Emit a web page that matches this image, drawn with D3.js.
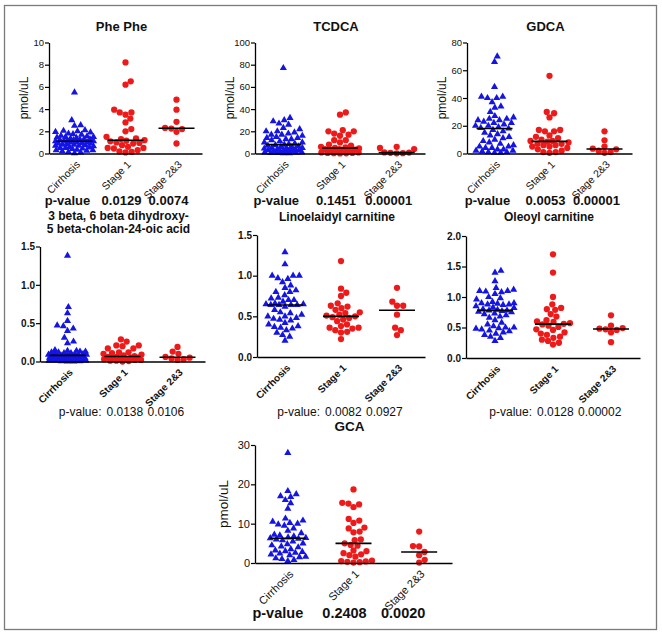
<!DOCTYPE html>
<html>
<head>
<meta charset="utf-8">
<script src="https://cdn.jsdelivr.net/npm/d3@7"></script>
<style>
  body { margin: 0; background: #fff; }
  svg { display: block; }
</style>
</head>
<body>
<div id="chart"></div>
<script>
const width = 662
const height = 634

const groups = ["Cirrhosis", "Stage 1", "Stage 2&3"]

// Phe Phe (pmol/uL)
const phePheCirrhosis = [5.5, 3.0, 2.55, 2.5, 2.1, 2.05, 2.0, 1.95, 1.9, 1.8, 1.75, 1.7, 1.6, 1.55, 1.5, 1.5, 1.45, 1.4, 1.35, 1.3, 1.3, 1.25, 1.2, 1.2, 1.15, 1.15, 1.12,
    1.1, 1.05, 1.0, 1.0, 0.95, 0.9, 0.9, 0.85, 0.8, 0.8, 0.75, 0.7, 0.7, 0.65, 0.6, 0.55, 0.5, 0.5, 0.45, 0.4, 0.35, 0.3, 0.3, 0.25, 0.2, 0.15, 0.1, 0.02]
const phePheStage1 = [8.2, 6.5, 6.2, 3.95, 3.7, 3.7, 3.5, 3.15, 2.8, 2.2, 2.0, 1.5, 1.35, 1.3, 1.2, 1.15, 1.1, 1.0, 0.95, 0.9, 0.75, 0.6, 0.5, 0.5, 0.45, 0.3, 0.2, 0.15, 0.1]
const phePheStage23 = [4.85, 3.95, 2.85, 2.3, 2.25, 2.2, 1.95, 0.9]
const phePheTicks = [0, 2, 4, 6, 8, 10]
const phePheP = ["0.0129", "0.0074"]

// TCDCA
const tcdcaCirrhosis = [77, 32, 30, 29, 27, 26, 23, 22, 20, 20, 19, 18, 17, 17, 16, 15, 14, 14, 13, 13, 12, 11, 10, 10, 9, 8.5,
    8, 7.5, 7, 6.5, 6, 6, 5, 5, 5, 4.5, 4, 4, 3.5, 3, 3, 2.5, 2, 2, 1.5, 1.5, 1, 1, 0.8, 0.5, 0.5, 0.3, 0.2]
const tcdcaStage1 = [37, 35, 21, 20, 20, 18, 17, 16, 12, 12, 10, 8, 7, 6, 5.5, 5, 4.5, 4, 4, 3.5, 3, 2.5, 2, 1.5, 1, 1, 0.5, 0.5, 0.3, 0.2, 0.1]
const tcdcaStage23 = [6, 5, 4, 1, 0.8, 0.6, 0.3, 0.2]
const tcdcaTicks = [0, 20, 40, 60, 80, 100]
const tcdcaP = ["0.1451", "0.00001"]

// GDCA
const gdcaCirrhosis = [70, 66, 48, 41, 41, 40, 40, 37, 34, 33, 30, 27, 26, 25, 25, 24, 24, 23, 22, 22, 21, 20, 20, 19, 18.5,
    18, 17, 16, 15, 14, 13, 12, 11, 10, 9, 8, 7, 6, 5, 5, 4, 4, 3, 3, 2, 2, 1.5, 1, 1, 0.5, 0.5]
const gdcaStage1 = [56, 30, 29, 26, 17, 17, 16, 16, 13, 12, 11, 10, 9, 9, 8.5, 8, 7, 7, 6, 6, 5, 5, 4, 3, 2, 1, 1, 0.5]
const gdcaStage23 = [16, 9.5, 5, 3.5, 3, 2, 1, 0.5]
const gdcaTicks = [0, 20, 40, 60, 80]
const gdcaP = ["0.0053", "0.00001"]

// 3 beta, 6 beta dihydroxy-5 beta-cholan-24-oic acid
const dihydroxyCirrhosis = [1.38, 0.71, 0.63, 0.53, 0.47, 0.46, 0.43, 0.40, 0.31, 0.26, 0.24, 0.15, 0.14, 0.14, 0.13, 0.13, 0.12, 0.12, 0.11, 0.11, 0.10, 0.10, 0.10, 0.09, 0.09, 0.09, 0.085,
    0.08, 0.075, 0.07, 0.07, 0.065, 0.06, 0.06, 0.055, 0.05, 0.05, 0.045, 0.04, 0.04, 0.035, 0.03, 0.03, 0.025, 0.02, 0.02, 0.02, 0.015, 0.01, 0.01, 0.01, 0.005, 0.005, 0.0, 0.0]
const dihydroxyStage1 = [0.29, 0.26, 0.21, 0.21, 0.20, 0.17, 0.17, 0.12, 0.12, 0.11, 0.10, 0.09, 0.08, 0.07, 0.06, 0.06, 0.05, 0.05, 0.04, 0.04, 0.03, 0.03, 0.02, 0.02, 0.01, 0.01, 0.005, 0.0]
const dihydroxyStage23 = [0.19, 0.13, 0.10, 0.06, 0.05, 0.04, 0.03, 0.02]
const dihydroxyTicks = [0, 0.5, 1.0, 1.5]
const dihydroxyP = ["0.0138", "0.0106"]

// Linoelaidyl carnitine
const linoCirrhosis = [1.29, 1.14, 1.0, 1.0, 1.0, 0.97, 0.96, 0.92, 0.88, 0.85, 0.82, 0.80, 0.80, 0.76, 0.73, 0.72, 0.70, 0.70, 0.68, 0.66, 0.65, 0.65,
    0.64, 0.64, 0.64, 0.64,
    0.62, 0.58, 0.55, 0.54, 0.52, 0.50, 0.50, 0.48, 0.47, 0.46, 0.45, 0.42, 0.40, 0.38, 0.37, 0.36, 0.35, 0.33, 0.30, 0.27, 0.25, 0.20]
const linoStage1 = [1.18, 0.84, 0.79, 0.75, 0.66, 0.63, 0.62, 0.60, 0.58, 0.55, 0.54, 0.52, 0.51, 0.50, 0.49, 0.48, 0.46, 0.44, 0.40, 0.38, 0.36, 0.36, 0.35, 0.33, 0.31, 0.30, 0.22]
const linoStage23 = [0.85, 0.68, 0.63, 0.63, 0.52, 0.36, 0.33, 0.27]
const linoTicks = [0, 0.5, 1.0, 1.5]
const linoP = ["0.0082", "0.0927"]

// Oleoyl carnitine
const oleoylCirrhosis = [1.43, 1.40, 1.26, 1.15, 1.12, 1.10, 1.10, 1.09, 1.08, 1.05, 1.00, 0.98, 0.96, 0.92, 0.90, 0.90, 0.89, 0.88, 0.88, 0.87, 0.85, 0.83, 0.82, 0.80, 0.79, 0.78,
    0.78, 0.77, 0.76, 0.75, 0.73, 0.72, 0.70, 0.68, 0.66, 0.62, 0.58, 0.55, 0.52, 0.50, 0.50, 0.49, 0.48, 0.47, 0.45, 0.44, 0.42, 0.40, 0.38, 0.35, 0.33, 0.28]
const oleoylStage1 = [1.70, 1.40, 1.00, 0.88, 0.82, 0.80, 0.79, 0.72, 0.68, 0.62, 0.60, 0.59, 0.57, 0.56, 0.55, 0.53, 0.51, 0.47, 0.46, 0.42, 0.40, 0.38, 0.35, 0.33, 0.30, 0.28, 0.25, 0.22]
const oleoylStage23 = [0.70, 0.53, 0.49, 0.48, 0.47, 0.46, 0.42, 0.26]
const oleoylTicks = [0, 0.5, 1.0, 1.5, 2.0]
const oleoylP = ["0.0128", "0.00002"]

// GCA
const gcaCirrhosis = [28, 18.3, 17.5, 17, 16.8, 16, 15.2, 13.8, 11.3, 10.8, 10.5, 10.2, 10, 9.8, 9.5, 8.8, 8.2, 7.6, 7.2, 7, 6.8, 6.5, 6.4,
    6.3, 6.2, 6, 5.8, 5.5, 5, 4.8, 4.5, 4.2, 4, 3.5, 3.2, 3, 2.8, 2.6, 2.4, 2.2, 2, 1.6, 1.5, 1.2, 1.0, 0.8, 0.5]
const gcaStage1 = [18.7, 15.3, 15.1, 14.9, 14.2, 11.2, 10.8, 10.2, 9, 8.8, 8, 7.8, 6, 5.8, 5, 4.6, 4.4, 3.2, 3, 2.5, 2.2, 2, 1.6, 0.6, 0.5, 0.4, 0.3, 0.2, 0.1]
const gcaStage23 = [8, 4.3, 4.2, 2.8, 2.0, 0.8, 0.1]
const gcaTicks = [0, 10, 20, 30]
const gcaP = ["0.2408", "0.0020"]

const blue = "#1414e6"
const red = "#ee1a1a"
const narrow = '"Liberation Sans Narrow", "Liberation Sans", Arial, sans-serif'
const sans = '"Liberation Sans", Arial, sans-serif'

// layout of each little plot
const panels = [
    { title: ["Phe Phe"], series: [phePheCirrhosis, phePheStage1, phePheStage23], ticks: phePheTicks, fmt: d3.format("d"), p: phePheP,
      x0: 49, x1: 202, yTop: 42.5, yBottom: 153.5, titleY: 31, row: "top" },
    { title: ["TCDCA"], series: [tcdcaCirrhosis, tcdcaStage1, tcdcaStage23], ticks: tcdcaTicks, fmt: d3.format("d"), p: tcdcaP,
      x0: 255, x1: 425, yTop: 42.5, yBottom: 153.5, titleY: 31, row: "top" },
    { title: ["GDCA"], series: [gdcaCirrhosis, gdcaStage1, gdcaStage23], ticks: gdcaTicks, fmt: d3.format("d"), p: gdcaP,
      x0: 467, x1: 632, yTop: 42.5, yBottom: 153.5, titleY: 31, row: "top" },
    { title: ["3 beta, 6 beta dihydroxy-", "5 beta-cholan-24-oic acid"], series: [dihydroxyCirrhosis, dihydroxyStage1, dihydroxyStage23], ticks: dihydroxyTicks, fmt: d3.format(".1f"), p: dihydroxyP,
      x0: 40, x1: 205, yTop: 246.5, yBottom: 361.5, titleY: 220, row: "mid" },
    { title: ["Linoelaidyl carnitine"], series: [linoCirrhosis, linoStage1, linoStage23], ticks: linoTicks, fmt: d3.format(".1f"), p: linoP,
      x0: 257, x1: 425, yTop: 235, yBottom: 357, titleY: 221, row: "mid" },
    { title: ["Oleoyl carnitine"], series: [oleoylCirrhosis, oleoylStage1, oleoylStage23], ticks: oleoylTicks, fmt: d3.format(".1f"), p: oleoylP,
      x0: 466, x1: 640, yTop: 236, yBottom: 358, titleY: 221, row: "mid" },
    { title: ["GCA"], series: [gcaCirrhosis, gcaStage1, gcaStage23], ticks: gcaTicks, fmt: d3.format("d"), p: gcaP,
      x0: 255, x1: 452, yTop: 445, yBottom: 563, titleY: 431, row: "bottom" }
]

const rowStyle = {
    top: { title: [narrow, 13, "bold"], tick: [narrow, 9.5, "normal"], xlab: [narrow, 10.5, "normal"], p: [sans, 13, "bold"], pY: 205, yLab: -25 },
    mid: { title: [sans, 12, "bold"], tick: [sans, 10, "bold"], xlab: [sans, 10, "bold"], p: [narrow, 12, "normal"], pY: 416, yLab: null },
    bottom: { title: [sans, 13.5, "bold"], tick: [narrow, 11, "normal"], xlab: [narrow, 11, "normal"], p: [sans, 14.5, "bold"], pY: 618, yLab: -32 }
}

// where the p-value texts sit, relative to a category centre
const pPlace = {
    top: [[0, -7, "middle"], [1, -4, "middle"], [2, -8, "middle"]],
    mid: [[1, -21, "end"], [1, -16, "start"], [1, 25, "start"]],
    bottom: [[0, -10, "middle"], [1, -9, "middle"], [2, -16, "middle"]]
}

const font = (sel, f) => sel.style("font-family", f[0]).style("font-size", f[1] + "px").style("font-weight", f[2])

// simple beeswarm: each point goes to the free spot nearest the centre line
function swarm(values, y, diam, maxHalf) {
    const placed = []
    values.slice().sort((a, b) => a - b).forEach(v => {
        const py = y(v)
        const near = placed.filter(p => Math.abs(p.y - py) < diam)
        let cands = [0]
        near.forEach(p => {
            const dx = Math.sqrt(diam * diam - (p.y - py) ** 2)
            cands.push(p.x + dx, p.x - dx)
        })
        cands = cands
            .filter(c => Math.abs(c) <= maxHalf)
            .filter(c => near.every(p => (p.x - c) ** 2 + (p.y - py) ** 2 >= diam * diam - 0.01))
            .sort((a, b) => Math.abs(a) - Math.abs(b))
        let x
        if (cands.length) x = cands[0]
        else {
            let bestD = -1
            for (let c = -maxHalf; c <= maxHalf; c += 0.5) {
                const d = d3.min(near, p => (p.x - c) ** 2 + (p.y - py) ** 2)
                if (d > bestD) { bestD = d; x = c }
            }
        }
        placed.push({ value: v, x: x, y: py })
    })
    return placed
}

const svg = d3.select("#chart").append("svg")
    .attr("width", width)
    .attr("height", height)

svg.append("rect")
    .attr("x", 4.5).attr("y", 5.5)
    .attr("width", 652).attr("height", 624)
    .attr("fill", "none")
    .attr("stroke", "#7a7a7a")
    .attr("stroke-width", 1.3)

panels.forEach(pn => {
    const st = rowStyle[pn.row]
    const g = svg.append("g")
    const y = d3.scaleLinear().domain([0, d3.max(pn.ticks)]).range([pn.yBottom, pn.yTop])
    const x = d3.scalePoint().domain(groups).range([pn.x0, pn.x1]).padding(0.5)
    const mid = (pn.x0 + pn.x1) / 2

    // title
    const t = g.append("text")
        .attr("text-anchor", "middle")
        .attr("fill", "#111")
        .call(font, st.title)
    pn.title.forEach((line, i) => {
        t.append("tspan").attr("x", mid - 4).attr("y", pn.titleY + i * 12.5).text(line)
    })

    // points
    pn.series.forEach((vals, i) => {
        const cx = x(groups[i])
        const pts = swarm(vals, y, 6.2, 19)
        const sym = i === 0 ? d3.symbol(d3.symbolTriangle, 22) : d3.symbol(d3.symbolCircle, 31)
        g.append("g").selectAll("path")
            .data(pts)
            .join("path")
            .attr("transform", d => `translate(${cx + d.x},${d.y})`)
            .attr("d", sym)
            .attr("fill", i === 0 ? blue : red)

        const m = d3.median(vals)
        g.append("line")
            .attr("x1", cx - 18).attr("x2", cx + 18)
            .attr("y1", y(m)).attr("y2", y(m))
            .attr("stroke", "#000")
            .attr("stroke-width", 1.6)
    })

    // y axis
    const ya = g.append("g")
        .attr("transform", `translate(${pn.x0},0)`)
        .call(d3.axisLeft(y).tickValues(pn.ticks).tickFormat(pn.fmt).tickSize(4).tickSizeOuter(0))
    ya.select(".domain").attr("stroke-width", 1.3)
    ya.selectAll(".tick line").attr("stroke-width", 1.2)
    ya.selectAll(".tick text").attr("x", -5).attr("fill", "#111").call(font, st.tick)

    // x axis
    const xa = g.append("g")
        .attr("transform", `translate(0,${pn.yBottom})`)
        .call(d3.axisBottom(x).tickSize(0).tickSizeOuter(0))
    xa.select(".domain").attr("stroke-width", 1.3)
    xa.selectAll(".tick text")
        .attr("x", 0).attr("y", 0).attr("dy", "0.35em")
        .attr("transform", "translate(3,9) rotate(-45)")
        .attr("text-anchor", "end")
        .attr("fill", "#111")
        .call(font, st.xlab)

    // y label
    if (st.yLab !== null) {
        g.append("text")
            .attr("transform", `translate(${pn.x0 + st.yLab},${(pn.yTop + pn.yBottom) / 2}) rotate(-90)`)
            .attr("text-anchor", "middle")
            .attr("dy", "0.35em")
            .attr("fill", "#111")
            .call(font, [narrow, st.tick[1] + 2.5, "normal"])
            .text("pmol/uL")
    }

    // p-values
    const pLabels = [pn.row === "mid" ? "p-value:" : "p-value"].concat(pn.p)
    const place = pPlace[pn.row]
    g.append("g").selectAll("text")
        .data(pLabels)
        .join("text")
        .attr("x", (d, i) => x(groups[place[i][0]]) + place[i][1])
        .attr("y", st.pY)
        .attr("text-anchor", (d, i) => place[i][2])
        .attr("fill", "#111")
        .call(font, st.p)
        .text(d => d)
})
</script>
</body>
</html>
